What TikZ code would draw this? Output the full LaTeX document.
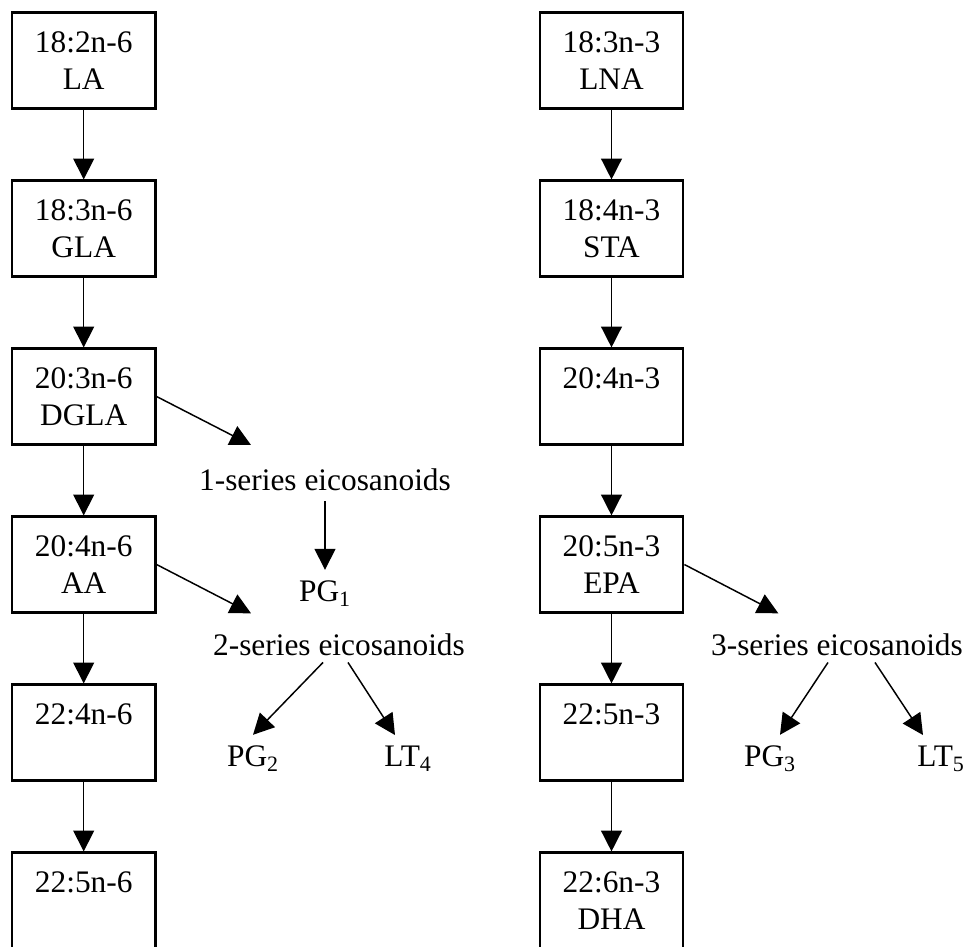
\documentclass[tikz,border=0pt]{standalone}
\usepackage{fontspec}
\setmainfont{Liberation Serif}
\usetikzlibrary{arrows.meta,calc}
\tikzset{acid/.style={rectangle,draw=black,line width=1.5pt,minimum width=3.59cm,minimum height=2.4cm,align=center},
  eico/.style={anchor=base,inner sep=0.26cm},
  >={Triangle[length=0.52cm,width=0.52cm]}}

\begin{document}
\begin{tikzpicture}[x=0.025cm,y=-0.025cm,font=\fontsize{22.3}{26.3}\selectfont,line width=1.05pt]
\useasboundingbox (0,0) rectangle (967,947);
  \node[acid] (1) at (83.7,60.5)  {18:2n-6\\LA};
  \node[acid] (2) at (83.7,228.5) {18:3n-6\\GLA};
  \node[acid] (3) at (83.7,396.5) {20:3n-6\\DGLA};
  \node[acid] (4) at (83.7,564.5) {20:4n-6\\AA};
  \node[acid] (5) at (83.7,732.5) {22:4n-6\\\phantom{A}};
  \node[acid] (6) at (83.7,900.5) {22:5n-6\\\phantom{A}};
  \node[acid] (7) at (611.5,60.5)  {18:3n-3\\LNA};
  \node[acid] (8) at (611.5,228.5) {18:4n-3\\STA};
  \node[acid] (9) at (611.5,396.5) {20:4n-3\\\phantom{A}};
  \node[acid] (10) at (611.5,564.5) {20:5n-3\\EPA};
  \node[acid] (11) at (611.5,732.5) {22:5n-3\\\phantom{A}};
  \node[acid] (12) at (611.5,900.5) {22:6n-3\\DHA};
  \node[eico] (13) at (325,490)   {1-series eicosanoids};
  \node[eico] (14) at (325,601.7) {PG\textsubscript{1}};
  \node[eico] (15) at (339,655)   {2-series eicosanoids};
  \node[eico] (16) at (253,766.7) {PG\textsubscript{2}};
  \node[eico] (17) at (408,766.7) {LT\textsubscript{4}};
  \node[eico] (18) at (837,655)   {3-series eicosanoids};
  \node[eico] (19) at (770,766.7) {PG\textsubscript{3}};
  \node[eico] (20) at (941,766.7) {LT\textsubscript{5}};
  \coordinate (21) at (251,445);
  \coordinate (22) at (251,613.3);
  \coordinate (23) at (778.3,613.3);
\draw[->] (1) to (2);
\draw[->] (2) to (3);
\draw[->] (3) to (4);
\draw[->] (4) to (5);
\draw[->] (5) to (6);
\draw[->] (7) to (8);
\draw[->] (8) to (9);
\draw[->] (9) to (10);
\draw[->] (10) to (11);
\draw[->] (11) to (12);
\draw[->] (3.east) to (21);
\draw[->] (4.east) to (22);
\draw[->] (10.east) to (23);
\draw[->] (13) to (14);
\draw[->] ($(15.south)+(-16,-4)$) to (16.north);
\draw[->] ($(15.south)+(9,-4)$) to ($(17.north)+(-13,0)$);
\draw[->] ($(18.south)+(-9,-4)$) to ($(19.north)+(10,0)$);
\draw[->] ($(18.south)+(38,-4)$) to ($(20.north)+(-18,0)$);
\end{tikzpicture}
\end{document}
